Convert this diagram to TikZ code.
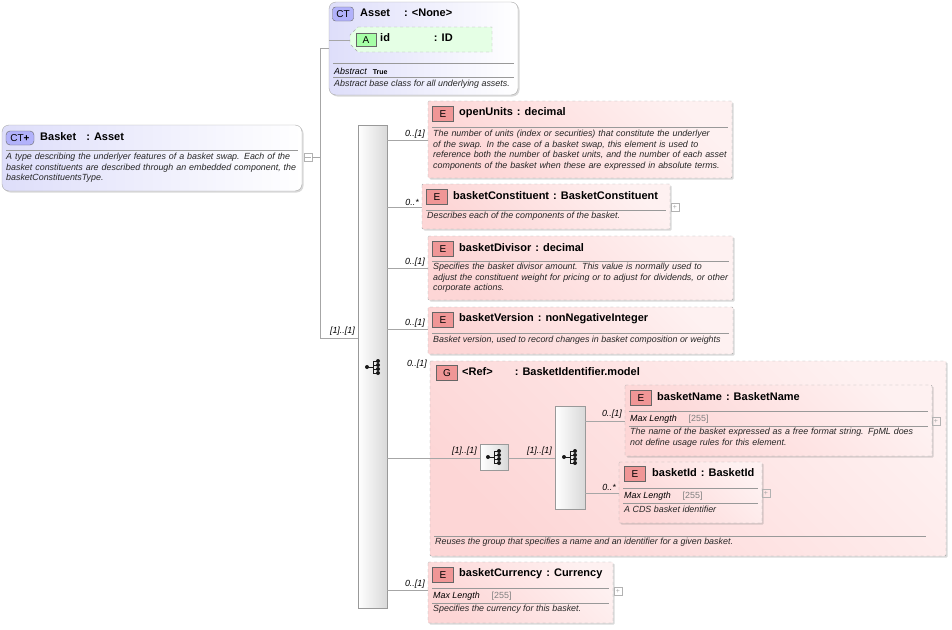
\documentclass[tikz,border=0pt]{standalone}
\usepackage{fontspec}
\setmainfont{Liberation Sans}
\usetikzlibrary{shapes.geometric,shadows,calc}
\definecolor{elfill}{RGB}{253,214,214}
\definecolor{ctfill}{RGB}{222,222,250}
\definecolor{bord}{RGB}{170,170,170}
\definecolor{badgeE}{RGB}{240,150,150}
\tikzset{
 x=1pt,y=-1pt,
 elem/.style={draw=bord,dashed,rounded corners=1pt,left color=elfill,right color=elfill!35,shading angle=135,drop shadow={shadow xshift=1.5pt,shadow yshift=-1.5pt,opacity=.3}},
 ct/.style={draw=bord,rounded corners=7pt,left color=ctfill,right color=white,drop shadow={shadow xshift=1.5pt,shadow yshift=-1.5pt,opacity=.3}},
 badge/.style={draw=gray!80!black,fill=badgeE,minimum width=21pt,minimum height=15pt,inner sep=0pt,font=\fontsize{10}{10}\selectfont},
 title/.style={anchor=west,font=\fontsize{11}{11}\selectfont\bfseries,inner sep=0pt},
 desc/.style={anchor=north west,align=left,inner sep=0pt,font=\fontsize{8.9}{10.6}\selectfont\itshape,text=black!85},
 small/.style={anchor=west,inner sep=0pt,font=\fontsize{8.9}{8}\selectfont\itshape},
 card/.style={anchor=south east,inner sep=1pt,font=\fontsize{8.9}{8}\selectfont\itshape},
 sep/.style={draw=gray!80},
 conn/.style={draw=gray!70},
 seq/.style={draw=gray!80,left color=white,right color=gray!30,shading angle=90},
 plus/.style={draw=gray!60,minimum size=8pt,inner sep=0pt,font=\fontsize{7}{7}\selectfont,text=gray!70},
}
\newcommand{\seqicon}[1]{%
 \draw[gray!20!black,line width=.8pt] ($(#1)+(-7,0)$)--($(#1)+(-1,0)$) ($(#1)+(-1,-6)$)--($(#1)+(-1,6)$) ($(#1)+(-1,-6)$)--($(#1)+(4,-6)$) ($(#1)+(-1,-2)$)--($(#1)+(4,-2)$) ($(#1)+(-1,2)$)--($(#1)+(4,2)$) ($(#1)+(-1,6)$)--($(#1)+(4,6)$);
 \fill[gray!20!black] ($(#1)+(-7,0)$) circle (2) ($(#1)+(4,-6)$) circle (2) ($(#1)+(4,-2)$) circle (2) ($(#1)+(4,2)$) circle (2) ($(#1)+(4,6)$) circle (2);}
\hyphenpenalty=10000
\exhyphenpenalty=10000
\begin{document}
\begin{tikzpicture}
\useasboundingbox (0,0) rectangle (952,629);
% Basket
\path[ct] (2,125) rectangle (302,191);
\node[draw=gray!80!black,fill=ctfill!80!blue,rounded corners=4pt,minimum width=28pt,minimum height=14pt,inner sep=0pt,font=\fontsize{10}{10}\selectfont] (bb) at (20,138) {CT\textbf{+}};
\node[title] (bt) at (40,137) {Basket\hspace{10pt}: Asset};
\draw[sep] (6,150) -- (298,150);
\node[desc,text width=296pt] (bd) at (6,153) {A type describing the underlyer features of a basket swap. Each of the basket constituents are described through an embedded component, the basketConstituentsType.};
\node[draw=gray!60,minimum size=8pt,inner sep=0pt] (bminus) at (308,157) {};
\draw[gray!60] (305,157)--(311,157);
\coordinate (vt) at (320,48); \coordinate (vb) at (320,338);
\draw[conn] (bminus.east) -- (320,157);
\draw[conn] (vt) -- (vb);
% Asset
\path[ct] (329,2) rectangle (518,95);
\node[draw=gray!80!black,fill=ctfill!80!blue,rounded corners=3pt,minimum width=21pt,minimum height=14pt,inner sep=0pt,font=\fontsize{10}{10}\selectfont] (ab) at (343,14) {CT};
\node[title] (at) at (360,13) {Asset\hspace{14pt}: <None>};
\draw[conn] (vt) -- (329,48);
\path[draw=bord,dashed,fill=green!10] (358,27) -- (492,27) -- (492,52) -- (358,52) -- (350,44) -- (350,35) -- cycle;
\node[draw=gray!80!black,fill=green!35,minimum width=20pt,minimum height=13pt,inner sep=0pt,font=\fontsize{10}{10}\selectfont] (aA) at (366,40) {A};
\node[title] (aid) at (380,38) {id\hspace{44pt}: ID};
\draw[conn] (329,40) -- (350,40);
\draw[sep] (333,63) -- (514,63);
\node[small] (abs) at (334,71) {Abstract\hspace{6pt}\upshape\bfseries\fontsize{7}{6}\selectfont True};
\draw[sep] (333,77) -- (514,77);
\node[desc] (ad) at (334,80) {Abstract base class for all underlying assets.};
% sequence
\draw[conn] (vb) -- (358,338);
\node[card] at (356,337) {[1]..[1]};
\path[seq,drop shadow={shadow xshift=1pt,shadow yshift=-1pt,opacity=.25}] (358,125) rectangle (387,608);
\seqicon{374,367}
\newcommand{\elem}[8]{%
 \path[elem] (#1,#2) rectangle (#3,#4);
 \node[badge] at (#1+15,#2+13) {E};
 \node[title] at (#1+31,#2+12) {#5\hspace{4pt}: #6};
 \draw[conn] (387,#7) -- (#1,#7);
 \node[card] at (#1-2,#7) {#8};}
\elem{428}{101}{732}{178}{openUnits}{decimal}{140}{0..[1]}
\draw[sep] (432,127)--(728,127);
\node[desc,text width=296pt] at (433,130) {The number of units (index or securities) that constitute the underlyer of the swap. In the case of a basket swap, this element is used to reference both the number of basket units, and the number of each asset components of the basket when these are expressed in absolute terms.};
\elem{422}{184}{670}{229}{basketConstituent}{BasketConstituent}{207}{0..*}
\draw[sep] (426,210)--(666,210);
\node[desc] at (427,212) {Describes each of the components of the basket.};
\node[plus] at (675,207) {+};
\elem{428}{236}{733}{300}{basketDivisor}{decimal}{268}{0..[1]}
\draw[sep] (432,261)--(729,261);
\node[desc,text width=298pt] at (433,263) {Specifies the basket divisor amount. This value is normally used to adjust the constituent weight for pricing or to adjust for dividends, or other corporate actions.};
\elem{428}{307}{733}{354}{basketVersion}{nonNegativeInteger}{329}{0..[1]}
\draw[sep] (432,333)--(729,333);
\node[desc] at (433,336) {Basket version, used to record changes in basket composition or weights};
% group
\path[elem] (430,361) rectangle (946,556);
\node[badge] at (447,373) {G};
\node[title] at (462,372) {<Ref>\hspace{22pt}: BasketIdentifier.model};
\node[card] at (428,370) {0..[1]};
\draw[conn] (387,458) -- (480,458);
\node[card] at (478,457) {[1]..[1]};
\path[seq] (480,444) rectangle (508,470);
\seqicon{495,457}
\draw[conn] (508,458) -- (555,458);
\node[card] at (553,457) {[1]..[1]};
\path[seq] (555,406) rectangle (585,509);
\seqicon{571,457}
% basketName
\path[elem] (625,385) rectangle (932,456);
\node[badge] at (641,398) {E};
\node[title] at (657,397) {basketName\hspace{4pt}: BasketName};
\draw[conn] (585,421) -- (625,421);
\node[card] at (623,420) {0..[1]};
\draw[sep] (629,411)--(928,411);
\node[small] at (630,419) {Max Length\hspace{12pt}\upshape\textcolor{gray}{[255]}};
\draw[sep] (629,426)--(928,426);
\node[desc,text width=298pt] at (630,428) {The name of the basket expressed as a free format string. FpML does not define usage rules for this element.};
\node[plus] at (936,421) {+};
% basketId
\path[elem] (619,462) rectangle (762,523);
\node[badge] at (635,474) {E};
\node[title] at (652,473) {basketId\hspace{4pt}: BasketId};
\draw[conn] (585,493) -- (619,493);
\node[card] at (617,492) {0..*};
\draw[sep] (623,488)--(758,488);
\node[small] at (624,496) {Max Length\hspace{12pt}\upshape\textcolor{gray}{[255]}};
\draw[sep] (623,503)--(758,503);
\node[desc] at (624,506) {A CDS basket identifier};
\node[plus] at (766,493) {+};
\draw[sep] (434,536)--(926,536);
\node[desc] at (435,538) {Reuses the group that specifies a name and an identifier for a given basket.};
% basketCurrency
\elem{428}{562}{613}{623}{basketCurrency}{Currency}{590}{0..[1]}
\draw[sep] (432,588)--(609,588);
\node[small] at (433,596) {Max Length\hspace{12pt}\upshape\textcolor{gray}{[255]}};
\draw[sep] (432,603)--(609,603);
\node[desc] at (433,605) {Specifies the currency for this basket.};
\node[plus] at (618,591) {+};
\end{tikzpicture}
\end{document}
